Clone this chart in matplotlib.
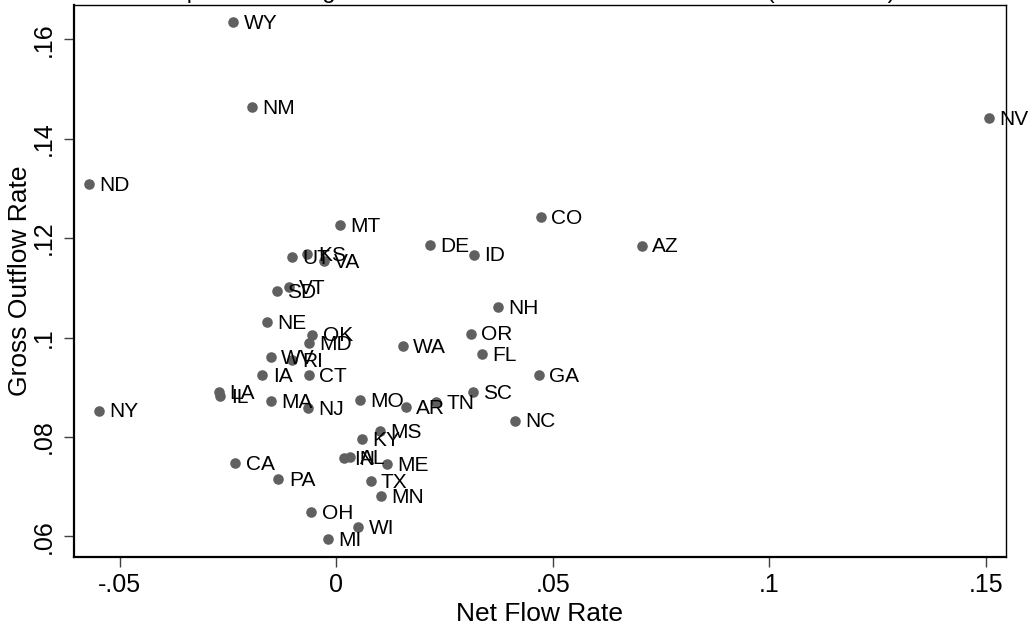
import matplotlib
matplotlib.use("Agg")
import matplotlib.pyplot as plt

plt.rcParams['font.family'] = ['Liberation Sans', 'DejaVu Sans']

# state abbreviations, net flow rate, gross outflow rate
states = ['WY', 'NM', 'ND', 'NV', 'MT', 'CO', 'DE', 'ID', 'AZ', 'UT', 'KS', 'VA',
          'SD', 'VT', 'NE', 'OK', 'MD', 'WV', 'RI', 'IA', 'CT', 'IL', 'LA', 'MA',
          'NJ', 'MO', 'AR', 'TN', 'SC', 'MS', 'KY', 'IN', 'AL', 'ME', 'CA', 'PA',
          'TX', 'MN', 'OH', 'WI', 'MI', 'NH', 'OR', 'WA', 'FL', 'GA', 'NC', 'NY']
net_flow = [-0.0238, -0.0196, -0.0571, 0.1507, 0.0008, 0.0472, 0.0216, 0.0318,
            0.0705, -0.0102, -0.0067, -0.0029, -0.0137, -0.0110, -0.0161, -0.0056,
            -0.0063, -0.0152, -0.0103, -0.0171, -0.0064, -0.0268, -0.0271, -0.0151,
            -0.0066, 0.0054, 0.0160, 0.0231, 0.0315, 0.0101, 0.0059, 0.0017,
            0.0031, 0.0116, -0.0233, -0.0134, 0.0079, 0.0103, -0.0058, 0.0051,
            -0.0019, 0.0373, 0.0311, 0.0153, 0.0337, 0.0468, 0.0413, -0.0548]
gross_out = [0.1635, 0.1464, 0.1309, 0.1442, 0.1227, 0.1243, 0.1186, 0.1167,
             0.1185, 0.1161, 0.1168, 0.1154, 0.1094, 0.1102, 0.1032, 0.1006,
             0.0988, 0.0961, 0.0955, 0.0924, 0.0924, 0.0882, 0.0890, 0.0872,
             0.0858, 0.0874, 0.0860, 0.0870, 0.0890, 0.0811, 0.0795, 0.0757,
             0.0759, 0.0746, 0.0748, 0.0716, 0.0711, 0.0681, 0.0648, 0.0618,
             0.0595, 0.1062, 0.1008, 0.0982, 0.0966, 0.0925, 0.0833, 0.0853]

xticks = [-0.05, 0, 0.05, 0.1, 0.15]
xticklabels = ['-.05', '0', '.05', '.1', '.15']
yticks = [0.06, 0.08, 0.1, 0.12, 0.14, 0.16]
yticklabels = ['.06', '.08', '.1', '.12', '.14', '.16']

fig = plt.figure(figsize=(10.32, 6.31), dpi=100)
ax = fig.add_axes([0.0717, 0.1177, 0.9028, 0.8744])

ax.scatter(net_flow, gross_out, s=58, color='#606060', zorder=3, linewidths=0)
for st, x, y in zip(states, net_flow, gross_out):
    ax.annotate(st, (x, y), xytext=(7.5, -1), textcoords='offset points',
                ha='left', va='center', fontsize=15, color='black',
                annotation_clip=False, zorder=4)

ax.set_xlim(-0.0606, 0.1546)
ax.set_ylim(0.0559, 0.1669)
ax.set_xticks(xticks)
ax.set_xticklabels(xticklabels)
ax.set_yticks(yticks)
ax.set_yticklabels(yticklabels, rotation=90, va='center')
ax.tick_params(axis='both', labelsize=18, length=7, width=1, color='#404040')
ax.tick_params(axis='x', pad=5)
ax.tick_params(axis='y', pad=6)

for side in ['top', 'right']:
    ax.spines[side].set_linewidth(1.0)
for side in ['bottom', 'left']:
    ax.spines[side].set_linewidth(1.6)

ax.set_xlabel('Net Flow Rate', fontsize=19, labelpad=3)
ax.set_ylabel('Gross Outflow Rate', fontsize=19, labelpad=0)

# title sits mostly above the visible canvas in the reference
fig.text(0.5, 1.0 + 2 / 631, 'Comparison of Migration and Net Flow Rates Across States (1995-2000)',
         ha='center', va='baseline', fontsize=17)

fig.savefig('out.png', dpi=100)
